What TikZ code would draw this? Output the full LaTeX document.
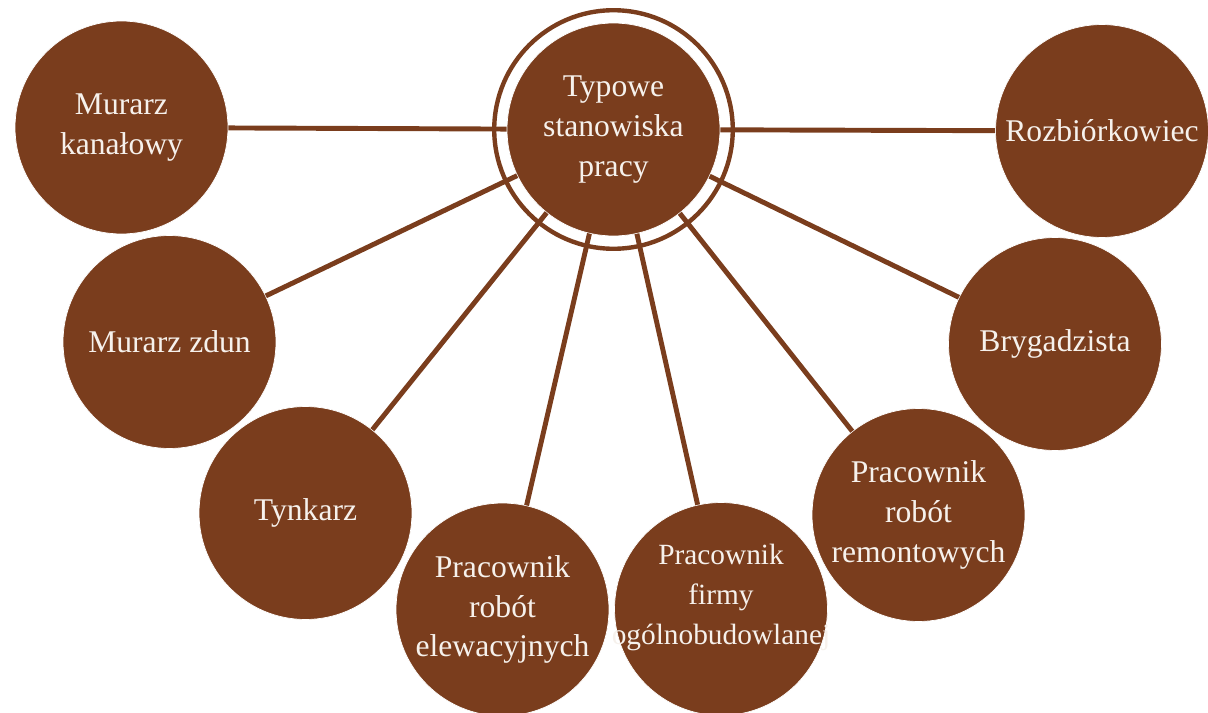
\documentclass[tikz,border=0pt]{standalone}
\usepackage{fontspec}
\setmainfont{Liberation Serif}
\usetikzlibrary{positioning}
\definecolor{brn}{RGB}{122,61,29}
\definecolor{txt}{RGB}{246,241,236}

\begin{document}
\begin{tikzpicture}[x=0.02cm, y=-0.02cm,
  job/.style={circle, fill=brn, draw=white, line width=0.4pt, inner sep=0pt, minimum size=4.26cm,
    text=txt, align=center, font=\fontsize{18}{22.7}\selectfont},
  link/.style={draw=brn, line width=2.8pt},
  ring/.style={draw=brn, line width=2.5pt}]
\useasboundingbox (0,0) rectangle (1208,713);
\node[job](c) at (613.5,129.5){Typowe\\stanowiska\\pracy};
\node[job](mk) at (121.5,127.5){Murarz\\kanałowy};
\node[job](mz) at (169.5,342){Murarz zdun};
\node[job](ty) at (305.5,513){Tynkarz};
\node[job](el) at (502.5,609.5){Pracownik\\robót\\elewacyjnych};
\node[job, font=\fontsize{16.7}{22.7}\selectfont, text depth=17pt](fi) at (721,609){Pracownik\\firmy\\\makebox[2cm]{ogólnobudowlanej}};
\node[job](re) at (918.5,515){Pracownik\\robót\\remontowych};
\node[job](br) at (1055,344){Brygadzista};
\node[job](rz) at (1102,131){Rozbiórkowiec};
\draw[ring] (c.center) circle[radius=2.386cm];
\draw[link] (c) -- (mk);
\draw[link] (c) -- (mz);
\draw[link] (c) -- (ty);
\draw[link] (c) -- (el);
\draw[link] (c) -- (fi);
\draw[link] (c) -- (re);
\draw[link] (c) -- (br);
\draw[link] (c) -- (rz);
\end{tikzpicture}
\end{document}
